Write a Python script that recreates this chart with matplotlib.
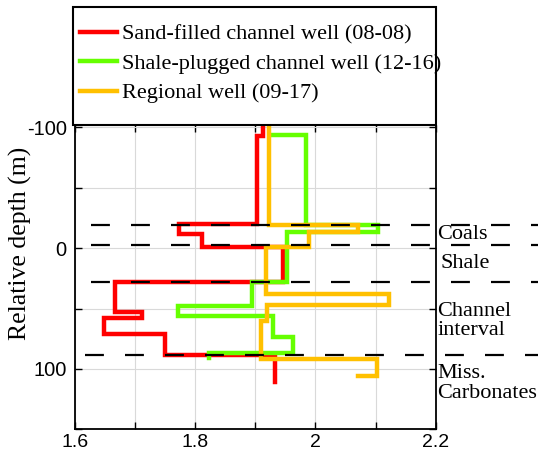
import matplotlib
matplotlib.use("Agg")
import matplotlib.pyplot as plt
import matplotlib.transforms as mtransforms
from matplotlib.patches import Rectangle
import numpy as np

# ---- data ----
well_labels = ["Sand-filled channel well (08-08)",
               "Shale-plugged channel well (12-16)",
               "Regional well (09-17)"]

red_depths = [-102, -93, -20, -11.7, -1, 28, 53, 58, 71, 88.5, 110.5]
red_values = [1.912, 1.903, 1.773, 1.812, 1.946, 1.666, 1.711, 1.648, 1.750, 1.932]

green_depths = [-93.6, -93.6, -19, -13, 28, 48, 56.5, 73.6, 86.4, 91]
green_values = [1.924, 1.984, 2.104, 1.953, 1.895, 1.772, 1.929, 1.963, 1.823]

orange_depths = [-102, -19, -13, -0.6, 38.3, 46.7, 60, 91.7, 105.8, 105.8]
orange_values = [1.9225, 2.071, 1.99, 1.917, 2.122, 1.919, 1.909, 2.103, 2.071]

boundary_depths = [-19.5, -2.7, 27.7, 88.5]
zone_labels = ["Coals", "Shale", "Channel\ninterval", "Miss.\nCarbonates"]
zone_label_depths = [-11.6, 12.5, 60.5, 112]

x_ticks = [1.6, 1.7, 1.8, 1.9, 2.0, 2.1, 2.2]
x_ticklabels = ["1.6", "", "1.8", "", "2", "", "2.2"]
y_ticks = [-100, -50, 0, 50, 100, 150]
y_ticklabels = ["-100", "", "0", "", "100", ""]

colors = ["#FF0000", "#66FF00", "#FFC000"]


def step_path(depths, values):
    xs, ys = [], []
    for i, v in enumerate(values):
        xs += [v, v]
        ys += [depths[i], depths[i + 1]]
    return xs, ys


serif = ["Liberation Serif", "DejaVu Serif"]
sans = ["Liberation Sans", "DejaVu Sans"]

fig = plt.figure(figsize=(5.38, 4.54), dpi=100)
ax = fig.add_axes([75 / 538, (454 - 429.3) / 454, (435.7 - 75) / 538, (429.3 - 125) / 454])

lines = []
for (d, v), c, lab in zip([(red_depths, red_values), (green_depths, green_values),
                           (orange_depths, orange_values)], colors, well_labels):
    xs, ys = step_path(d, v)
    ln, = ax.plot(xs, ys, color=c, lw=3.2, solid_joinstyle="miter", label=lab, zorder=3)
    lines.append(ln)

ax.set_xlim(1.6, 2.2)
ax.set_ylim(150, -102)
ax.set_xticks(x_ticks)
ax.set_xticklabels(x_ticklabels, fontfamily=sans, fontsize=14)
ax.set_yticks(y_ticks)
ax.set_yticklabels(y_ticklabels, fontfamily=sans, fontsize=14.5)
ax.tick_params(direction="in", top=True, right=True, length=5, width=1)
ax.tick_params(axis="x", pad=3.5)
ax.tick_params(axis="y", pad=6)
ax.grid(True, color="#d9d9d9", lw=0.8, zorder=0)
for s in ax.spines.values():
    s.set_linewidth(1.3)
ax.set_ylabel("Relative depth (m)", fontfamily=serif, fontsize=18.5)
ax.yaxis.set_label_coords(-0.118, 0.612)

# boundary dashed lines (extend beyond axes)
starts = [1.6266, 1.6266, 1.6266, 1.6166]
for y, x0 in zip(boundary_depths, starts):
    ax.plot([x0, 2.38], [y, y], color="black", lw=1.6, ls=(0, (8.5, 9.5)),
            clip_on=False, zorder=4)

trans = mtransforms.blended_transform_factory(ax.transAxes, ax.transData)
for lab, y in zip(zone_labels, zone_label_depths):
    xoff = 1.014 if lab == "Shale" else 1.005
    ax.text(xoff, y, lab, transform=trans, fontfamily=serif, fontsize=16,
            va="center", ha="left", linespacing=1.02, clip_on=False)

# legend box
fig.patches.append(Rectangle((73 / 538, (454 - 125) / 454), (436 - 73) / 538, (125 - 7) / 454,
                             transform=fig.transFigure, fill=True, facecolor="white",
                             edgecolor="black", lw=1.5, zorder=5))
leg = fig.legend(handles=lines, loc="upper left", bbox_to_anchor=(80 / 538, 1 - 24 / 454),
                 frameon=False, prop={"family": serif, "size": 16},
                 handlelength=1.65, handletextpad=0.25, labelspacing=0.4,
                 borderaxespad=0, borderpad=0)
leg.set_zorder(6)

fig.savefig("out.png", dpi=100)
